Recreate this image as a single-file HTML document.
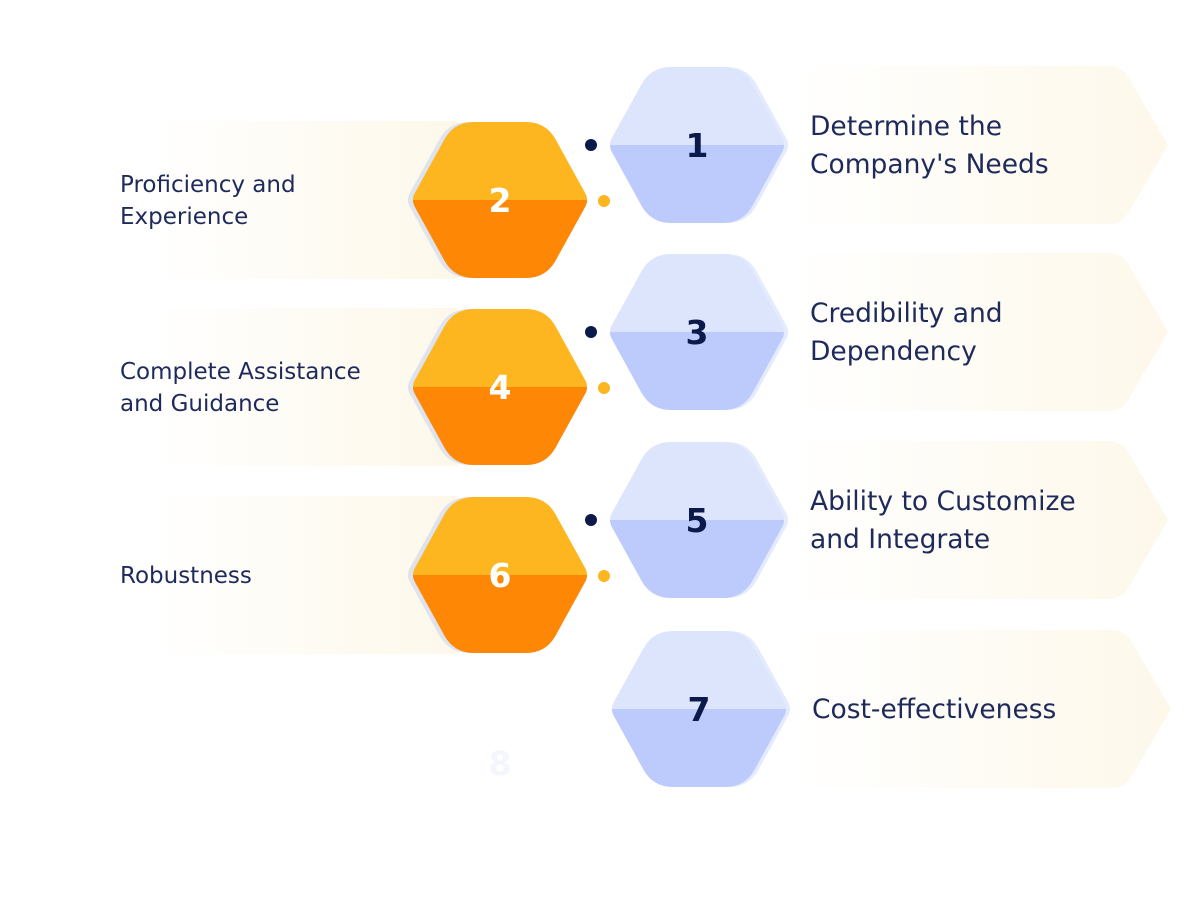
<!DOCTYPE html>
<html><head><meta charset="utf-8"><style>
body{margin:0;background:#fff;width:1200px;height:918px;overflow:hidden}
svg{display:block}
text{font-family:"DejaVu Sans","Liberation Sans",sans-serif}
</style></head><body>
<svg id="s" width="1200" height="918" viewBox="0 0 1200 918">
<defs>
<linearGradient id="gr" x1="0" x2="1"><stop offset="0" stop-color="#fff"/><stop offset="1" stop-color="#fdf8ea"/></linearGradient>
<linearGradient id="gl" x1="0" x2="1"><stop offset="0" stop-color="#fff"/><stop offset="1" stop-color="#fdf8ea"/></linearGradient>
</defs>
</svg>
<script>
const blueNums=[1,3,5,7];
const blueLabels=[["Determine the","Company's Needs"],["Credibility and","Dependency"],["Ability to Customize","and Integrate"],["Cost-effectiveness"]];
const orangeNums=[2,4,6];
const orangeLabels=[["Proficiency and","Experience"],["Complete Assistance","and Guidance"],["Robustness"]];
const s=document.getElementById('s');
const NS='http://www.w3.org/2000/svg';
function mk(t,a,p){const e=document.createElementNS(NS,t);for(const k in a)e.setAttribute(k,a[k]);(p||s).appendChild(e);return e;}
function hexPath(cx,cy){const w=89,h=78,a=46,r=20;
 const P=[[cx-a,cy-h],[cx+a,cy-h],[cx+w,cy],[cx+a,cy+h],[cx-a,cy+h],[cx-w,cy]];
 let d='';for(let i=0;i<6;i++){const p=P[i],pr=P[(i+5)%6],nx=P[(i+1)%6];
  const l1=Math.hypot(pr[0]-p[0],pr[1]-p[1]),l2=Math.hypot(nx[0]-p[0],nx[1]-p[1]);
  const rr=(i==2||i==5)?r*0.4:r;
  const a1=[p[0]+(pr[0]-p[0])*rr/l1,p[1]+(pr[1]-p[1])*rr/l1],a2=[p[0]+(nx[0]-p[0])*rr/l2,p[1]+(nx[1]-p[1])*rr/l2];
  d+=(i?'L':'M')+a1[0]+' '+a1[1]+'Q'+p[0]+' '+p[1]+' '+a2[0]+' '+a2[1];}
 return d+'Z';}
let cid=0;
function hex(cx,cy,top,bot,shadow,num,numColor,name){
 const g=mk('g',{});
 
 
 mk('path',{d:hexPath(cx+(shadow[1]),cy),fill:shadow[0]},g);
 const id='c'+(cid++);
 const cp=mk('clipPath',{id:id},g);mk('path',{d:hexPath(cx,cy)},cp);
 mk('rect',{x:cx-100,y:cy-90,width:200,height:90,fill:top,'clip-path':'url(#'+id+')'},g);
 mk('rect',{x:cx-100,y:cy,width:200,height:90,fill:bot,'clip-path':'url(#'+id+')'},g);
 const t=mk('text',{x:cx,y:cy+12,'text-anchor':'middle','font-size':33,'font-weight':'bold',fill:numColor},g);t.textContent=num;
 
 
}
const blueY=[145,332,520,709],orangeY=[200,387,575];
blueY.forEach((y,i)=>{const dx=i==3?3:0;
 const b=mk('path',{d:`M${790+dx} ${y-79}L${1110+dx} ${y-79}Q${1122+dx} ${y-79} ${1130+dx} ${y-65}L${1168+dx} ${y}L${1130+dx} ${y+65}Q${1122+dx} ${y+79} ${1110+dx} ${y+79}L${790+dx} ${y+79}Z`,fill:'url(#gr)'});
 
 });
orangeY.forEach(y=>{const b=mk('rect',{x:148,y:y-79,width:310,height:158,fill:'url(#gl)'});
 
 });
const e8=mk('text',{x:500,y:775,'text-anchor':'middle','font-size':33,'font-weight':'bold',fill:'#f3f7fd'});e8.textContent='8';


orangeY.forEach((y,i)=>{hex(500,y,'#fdb520','#fe8805',['#dfe3ee',-5],orangeNums[i],'#fff','orange-hexagon-'+orangeNums[i]);
 const d=mk('circle',{cx:604,cy:y+1,r:6,fill:'#fdb520'});
 
 
 orangeLabels[i].forEach((l,j)=>{const n=orangeLabels[i].length;
  const t=mk('text',{x:120,y:y-1+(j-(n-1)/2)*32+9,'font-size':23,fill:'#1e2a5a'});t.textContent=l;
  
  });});
blueY.forEach((y,i)=>{const cx=i==3?699:697;
 hex(cx,y,'#dde5fd','#bccbfc',['#e4ebfd',4],blueNums[i],'#0b1a4b','blue-hexagon-'+blueNums[i]);
 if(i<3){const d=mk('circle',{cx:591,cy:y,r:6,fill:'#0b1a4b'});
  
  }
 blueLabels[i].forEach((l,j)=>{const n=blueLabels[i].length;
  const t=mk('text',{x:i==3?812:810,y:y+(j-(n-1)/2)*38+9,'font-size':26.5,fill:'#1e2a5a'});t.textContent=l;
  
  });});
</script>
</body></html>
